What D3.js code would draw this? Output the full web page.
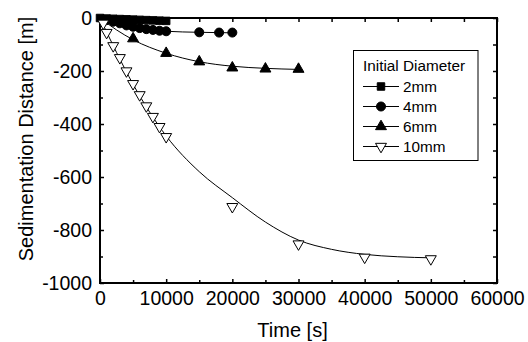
<!DOCTYPE html>
<html>
<head>
<meta charset="utf-8">
<script src="https://cdn.jsdelivr.net/npm/d3@7"></script>
<style>
  body { margin: 0; background: #fff; }
  svg { display: block; font-family: "Liberation Sans", Arial, sans-serif; }
</style>
</head>
<body>
<div id="chart"></div>
<script>
// tick values
const xTicks = [0, 10000, 20000, 30000, 40000, 50000, 60000];
const xMinor = [5000, 15000, 25000, 35000, 45000, 55000];
const yTicks = [-1000, -800, -600, -400, -200, 0];
const yMinor = [-900, -700, -500, -300, -100];

// measured points (time [s], distance [m])
const t2mm = [0, 1000, 2000, 3000, 4000, 5000, 6000, 7000, 8000, 9000, 10000];
const d2mm = [0, -2, -3, -4, -5, -6, -7, -8, -9, -10, -11];
const t4mm = [1000, 2000, 3000, 4000, 5000, 6000, 7000, 8000, 9000, 10000, 15000, 18000, 20000];
const d4mm = [-8, -14, -20, -28, -33, -38, -42, -45, -48, -50, -54, -55, -55];
const t6mm = [5000, 10000, 15000, 20000, 25000, 30000];
const d6mm = [-78, -133, -165, -188, -192, -193];
const t10mm = [500, 1000, 2000, 3000, 4000, 5000, 6000, 7000, 8000, 9000, 10000, 20000, 30000, 40000, 50000];
const d10mm = [-20, -55, -105, -150, -200, -248, -290, -332, -372, -410, -448, -712, -853, -903, -909];

// fitted curves
const fitT2mm = [0, 10000];
const fitD2mm = [0, -9];
const fitT4mm = [0, 2500, 5000, 7500, 10000, 15000, 20000];
const fitD4mm = [0, -18, -33, -43, -50, -54, -56];
const fitT6mm = [0, 2500, 5000, 10000, 15000, 20000, 25000, 30000];
const fitD6mm = [0, -45, -82, -133, -165, -182, -190, -194];
const fitT10mm = [0, 2500, 5000, 7500, 10000, 15000, 20000, 25000, 30000, 35000, 40000, 45000, 50000];
const fitD10mm = [0, -130, -250, -355, -445, -580, -678, -770, -838, -873, -892, -901, -905];

const labels = ["2mm", "4mm", "6mm", "10mm"];

const width = 528, height = 342;
const margin = { top: 18, right: 31, bottom: 59, left: 100 };

const svg = d3.select("#chart").append("svg")
  .attr("width", width).attr("height", height);

const x = d3.scaleLinear().domain([0, 60000]).range([margin.left, width - margin.right]);
const y = d3.scaleLinear().domain([-1000, 0]).range([height - margin.bottom, margin.top]);

const zip = (a, b) => a.map((v, i) => [v, b[i]]);

const series = [
  { pts: zip(t2mm, d2mm), fit: zip(fitT2mm, fitD2mm), sym: d3.symbolSquare, size: 56, fill: "#000", rot: 0 },
  { pts: zip(t4mm, d4mm), fit: zip(fitT4mm, fitD4mm), sym: d3.symbolCircle, size: 64, fill: "#000", rot: 0 },
  { pts: zip(t6mm, d6mm), fit: zip(fitT6mm, fitD6mm), sym: d3.symbolTriangle, size: 52, fill: "#000", rot: 0 },
  { pts: zip(t10mm, d10mm), fit: zip(fitT10mm, fitD10mm), sym: d3.symbolTriangle, size: 52, fill: "#fff", rot: 180 }
];

// axes (plain hyphen for negatives, as in the original)
const tickFont = 19.5;
const fmt = d => String(d);
svg.append("g")
  .attr("transform", `translate(0,${y(-1000)})`)
  .call(d3.axisBottom(x).tickValues(xTicks).tickSize(-4).tickPadding(8).tickFormat(fmt));
svg.append("g")
  .attr("transform", `translate(0,${y(-1000)})`)
  .call(d3.axisBottom(x).tickValues(xMinor).tickSize(-3).tickFormat(""));
svg.append("g")
  .attr("transform", `translate(0,${y(0)})`)
  .call(d3.axisTop(x).tickValues(xTicks.concat(xMinor)).tickSize(-4).tickFormat(""));

svg.append("g")
  .attr("transform", `translate(${x(0)},0)`)
  .call(d3.axisLeft(y).tickValues(yTicks).tickSize(-4).tickPadding(8).tickFormat(fmt));
svg.append("g")
  .attr("transform", `translate(${x(0)},0)`)
  .call(d3.axisLeft(y).tickValues(yMinor).tickSize(-3).tickFormat(""));
svg.append("g")
  .attr("transform", `translate(${x(60000)},0)`)
  .call(d3.axisRight(y).tickValues(yTicks.concat(yMinor)).tickSize(-4).tickFormat(""));

svg.selectAll(".domain").remove();
svg.selectAll(".tick line").attr("stroke", "#000").attr("stroke-width", 1.5);
svg.selectAll(".tick text")
  .attr("font-size", tickFont)
  .attr("font-family", "Liberation Sans, Arial, sans-serif")
  .attr("fill", "#000");

// frame
svg.append("rect")
  .attr("x", x(0)).attr("y", y(0))
  .attr("width", x(60000) - x(0)).attr("height", y(-1000) - y(0))
  .attr("fill", "none").attr("stroke", "#000").attr("stroke-width", 2);

// fit lines
const line = d3.line().x(d => x(d[0])).y(d => y(d[1])).curve(d3.curveMonotoneX);
svg.append("g").selectAll("path")
  .data(series)
  .join("path")
  .attr("d", d => line(d.fit))
  .attr("fill", "none").attr("stroke", "#000").attr("stroke-width", 1);

// markers
series.forEach(s => {
  svg.append("g").selectAll("path")
    .data(s.pts)
    .join("path")
    .attr("d", d3.symbol(s.sym, s.size))
    .attr("transform", d => `translate(${x(d[0])},${y(d[1])}) rotate(${s.rot})`)
    .attr("fill", s.fill).attr("stroke", "#000").attr("stroke-width", 1);
});

// axis titles
svg.append("text")
  .attr("x", (x(0) + x(60000)) / 2 - 6).attr("y", 337)
  .attr("text-anchor", "middle").attr("font-size", 20)
  .text("Time [s]");
svg.append("text")
  .attr("transform", `translate(33,139) rotate(-90)`)
  .attr("text-anchor", "middle").attr("font-size", 20)
  .text("Sedimentation Distance [m]");

// legend
const lg = svg.append("g");
lg.append("rect")
  .attr("x", 353.5).attr("y", 50.5).attr("width", 124.5).attr("height", 110)
  .attr("fill", "#fff").attr("stroke", "#000").attr("stroke-width", 1);
lg.append("text")
  .attr("x", 363).attr("y", 71).attr("font-size", 15.3)
  .text("Initial Diameter");
labels.forEach((lab, i) => {
  const cy = 86.5 + i * 20;
  const s = series[i];
  lg.append("line")
    .attr("x1", 363).attr("x2", 399).attr("y1", cy).attr("y2", cy)
    .attr("stroke", "#000").attr("stroke-width", 1);
  lg.append("path")
    .attr("d", d3.symbol(s.sym, s.size))
    .attr("transform", `translate(381,${cy}) rotate(${s.rot})`)
    .attr("fill", s.fill).attr("stroke", "#000").attr("stroke-width", 1);
  lg.append("text")
    .attr("x", 403).attr("y", cy + 5.5).attr("font-size", 15.3)
    .text(lab);
});
</script>
</body>
</html>
